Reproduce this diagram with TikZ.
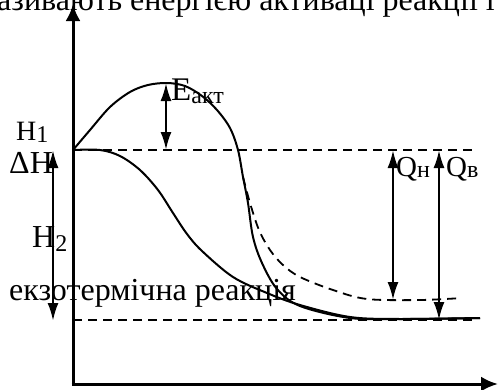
\documentclass[tikz,border=0pt]{standalone}
\usepackage{fontspec}
\setmainfont{Liberation Serif}
\usetikzlibrary{arrows.meta}
\newcommand\lsub[2]{\raisebox{-#2pt}{\fontsize{24}{24}\selectfont #1}}
\begin{document}
\begin{tikzpicture}[x=1pt,y=-1pt,
  axis/.style={line width=3pt,-{Latex[length=17pt,width=15pt]}},
  darr/.style={line width=2.4pt,{Latex[length=18pt,width=11pt]}-{Latex[length=18pt,width=11pt]}},
  crv/.style={line width=2pt},
  dsh/.style={line width=1.8pt,dash pattern=on 9pt off 6pt},
  lbl/.style={inner sep=0pt,anchor=base west,font=\fontsize{32}{32}\selectfont}]
\useasboundingbox (0,0) rectangle (498,389);
\clip (0,0) rectangle (498,389);
% top text (clipped)
\node[lbl] (top) at (-3,10) {азивають енергією активаці реакції і};
% axes
\coordinate (O) at (73,384);
\coordinate (Ytop) at (73,4);
\coordinate (Xend) at (498,384);
\draw[axis] (O) -- (Ytop);
\draw[axis] ([xshift=-1.5pt]O) -- (Xend);
% levels
\coordinate (H1a) at (73,150);
\coordinate (H1b) at (472,150);
\coordinate (H2a) at (73,320);
\coordinate (H2b) at (472,320);
\draw[dsh] (H1a) -- (H1b);
\draw[dsh] (H2a) -- (H2b);
% upper curve
\draw[crv] plot[smooth,tension=0.55] coordinates {(73,150) (90,130) (110,107) (130,92) (148,85) (167,83) (185,86) (202,96) (217,110) (230,128) (238,150) (243,177) (248,203) (253,237) (262,263) (277,289) (300,306) (350,318) (400,319) (480,318)};
% lower solid curve
\draw[crv] plot[smooth,tension=0.55] coordinates {(73,150) (100,150) (120,156) (140,170) (158,190) (173,213) (187,234) (202,251) (233,277) (267,293) (300,305) (350,317) (400,319) (480,318)};
% dashed curve
\draw[dsh] plot[smooth,tension=0.55] coordinates {(243,177) (250,203) (259,230) (270,250) (283,265) (300,277) (333,290) (367,299) (420,300) (462,298)};
% arrows
\coordinate (Et) at (166,83);
\coordinate (Eb) at (166,150);
\draw[darr] (Et) -- (Eb);
\coordinate (Dt) at (53,150);
\coordinate (Db) at (53,321);
\draw[darr] (Dt) -- (Db);
\coordinate (QHt) at (393,150);
\coordinate (QHb) at (393,300);
\draw[darr] (QHt) -- (QHb);
\coordinate (QBt) at (439,150);
\coordinate (QBb) at (439,320);
\draw[darr] (QBt) -- (QBb);
% labels
\node[lbl,font=\fontsize{33}{33}\selectfont] (Eakt) at (171,100) {E\lsub{акт}{3}};
\node[lbl,font=\fontsize{28}{28}\selectfont] (H1) at (16,140) {H\lsub{1}{2}};
\node[lbl] (dH) at (9,173) {ΔH};
\node[lbl] (H2) at (32,247) {H\lsub{2}{4}};
\node[lbl,font=\fontsize{29}{29}\selectfont] (Qn) at (396,176) {Q\lsub{н}{1}};
\node[lbl,font=\fontsize{29}{29}\selectfont] (Qv) at (446,176) {Q\lsub{в}{1}};
\node[lbl] (exo) at (9,300) {екзотермічна реакція};
\end{tikzpicture}
\end{document}
